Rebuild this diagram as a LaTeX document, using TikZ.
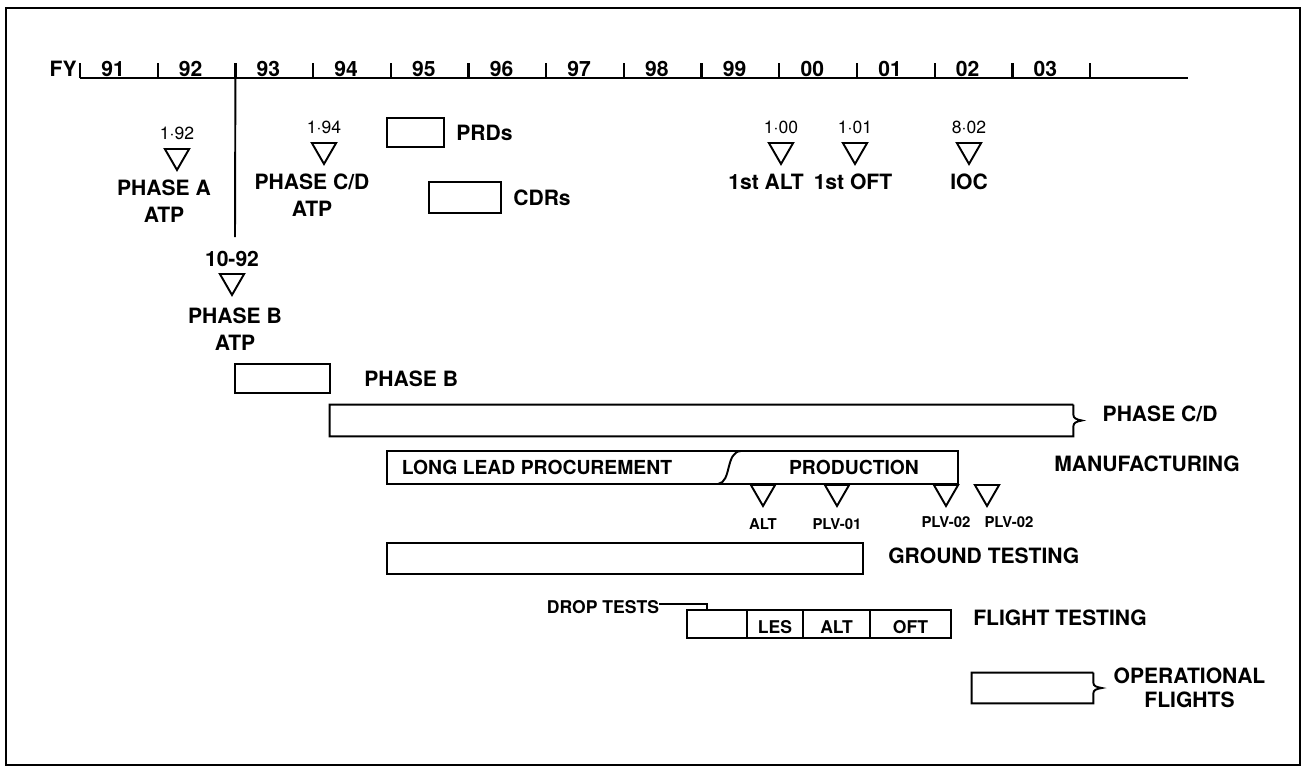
\documentclass[tikz,border=0pt]{standalone}
\usepackage{fontspec}
\setmainfont{TeX Gyre Heros}
\usetikzlibrary{positioning,fit,shapes.geometric}

\tikzset{
  lbl/.style={font=\bfseries\fontsize{12}{15.3}\selectfont,inner sep=0pt,align=center},
  yrlbl/.style={font=\bfseries\fontsize{12}{14}\selectfont,inner sep=0pt},
  dtlbl/.style={font=\fontsize{10}{11}\selectfont,inner sep=0pt},
  seglbl/.style={font=\bfseries\fontsize{10}{12}\selectfont,inner sep=0pt},
  inlbl/.style={font=\bfseries\fontsize{11}{12}\selectfont,inner sep=0pt},
  smlbl/.style={font=\bfseries\fontsize{8.5}{10}\selectfont,inner sep=0pt},
  bar/.style={draw,line width=1.1pt,inner sep=0pt},
  openbar/.style={inner sep=0pt},
  barln/.style={line width=1.1pt},
  mstone/.style={draw,line width=1.1pt,regular polygon,regular polygon sides=3,shape border rotate=180,inner sep=0pt,minimum size=0.56cm,anchor=north},
}

\begin{document}
\begin{tikzpicture}[x=0.02cm,y=-0.02cm]
  \useasboundingbox (0,0) rectangle (1306,772);
  \draw[line width=1.6pt] (6,8) rectangle (1300,765);

  % fiscal year scale
  \node[yrlbl,anchor=base east] (fy) at (77,76) {FY};
  \draw[line width=1.3pt] (80,78) -- (1188,78);
  \foreach \yr [count=\i from 0] in {91,92,93,94,95,96,97,98,99,00,01,02,03} {
    \coordinate (tk\yr) at (80+77.7*\i,78);
    \draw[line width=1.3pt] (tk\yr) -- ++(0,-15);
    \node[yrlbl,anchor=base] (yr\yr) at (113+77.7*\i,76) {\yr};
  }
  \coordinate (tkend) at (1090,78);
  \draw[line width=1.3pt] (tkend) -- ++(0,-15);
  \coordinate (vlend) at (235,237);
  \draw[barln] (tk93) -- (vlend);

  % milestones
  \node[mstone] (ma) at (177,148) {};
  \node[dtlbl,above=0.16cm of ma] (dma) {1·92};
  \node[lbl,below=0.16cm of ma,xshift=-0.26cm] (lma) {PHASE A\\ATP};

  \node[mstone] (mcd) at (324,142) {};
  \node[dtlbl,above=0.16cm of mcd] (dmcd) {1·94};
  \node[lbl,below=0.16cm of mcd,xshift=-0.24cm] (lmcd) {PHASE C/D\\ATP};

  \node[mstone] (mb) at (232,273) {};
  \node[yrlbl,above=0.12cm of mb] (dmb) {10-92};
  \node[lbl,below=0.22cm of mb,xshift=0.06cm] (lmb) {PHASE B\\ATP};

  \node[mstone] (malt1) at (781,142) {};
  \node[dtlbl,above=0.16cm of malt1] (dalt1) {1·00};
  \node[lbl,below=0.16cm of malt1,xshift=-0.3cm] (lalt1) {1st ALT};

  \node[mstone] (moft1) at (855,142) {};
  \node[dtlbl,above=0.16cm of moft1] (doft1) {1·01};
  \node[lbl,below=0.16cm of moft1,xshift=-0.04cm] (loft1) {1st OFT};

  \node[mstone] (mioc) at (969,142) {};
  \node[dtlbl,above=0.16cm of mioc] (dioc) {8·02};
  \node[lbl,below=0.16cm of mioc] (lioc) {IOC};

  % reviews
  \node[bar,fit={(387,118) (444,147)}] (prd) {};
  \node[lbl,right=0.22cm of prd] (lprd) {PRDs};
  \node[bar,fit={(429,182) (501,213)}] (cdr) {};
  \node[lbl,right=0.22cm of cdr] (lcdr) {CDRs};

  % phases
  \node[bar,fit={(235,364) (330,393)}] (phb) {};
  \node[lbl,right=0.66cm of phb] (lphb) {PHASE B};

  \node[openbar,fit={(330,405) (1073,436)}] (pcd) {};
  \draw[barln] (pcd.north east) -- (pcd.north west) -- (pcd.south west) -- (pcd.south east)
    -- ([yshift=0.2cm]pcd.south east) .. controls ([yshift=0.27cm]pcd.south east) and ([xshift=0.06cm,yshift=-0.02cm]pcd.east) .. ([xshift=0.17cm]pcd.east)
    .. controls ([xshift=0.06cm,yshift=0.02cm]pcd.east) and ([yshift=-0.27cm]pcd.north east) .. ([yshift=-0.2cm]pcd.north east) -- (pcd.north east);
  \node[lbl,right=0.58cm of pcd,yshift=0.14cm] (lpcd) {PHASE C/D};

  % manufacturing
  \node[bar,fit={(387,451) (958,484)}] (mfg) {};
  \draw[barln] (718,484) .. controls (732,482) and (725,452) .. (741,451);
  \node[inlbl] (tllp) at (537,467) {LONG LEAD PROCUREMENT};
  \node[inlbl] (tprod) at (854,467) {PRODUCTION};
  \node[lbl,right=1.9cm of mfg,yshift=0.07cm] (lmfg) {MANUFACTURING};

  \node[mstone] (palt) at (763,484) {};
  \node[smlbl,below=0.2cm of palt] (lpalt) {ALT};
  \node[mstone] (p01) at (837,484) {};
  \node[smlbl,below=0.2cm of p01] (lp01) {PLV-01};
  \node[mstone] (p02a) at (946,484) {};
  \node[smlbl,below=0.17cm of p02a] (lp02a) {PLV-02};
  \node[mstone] (p02b) at (987,484) {};
  \node[smlbl,below=0.17cm of p02b,xshift=0.44cm] (lp02b) {PLV-02};

  % testing
  \node[bar,fit={(387,543) (863,574)}] (gnd) {};
  \node[lbl,right=0.48cm of gnd,yshift=0.05cm] (lgnd) {GROUND TESTING};

  \node[bar,fit={(687,610) (747,638)}] (fdrop) {};
  \node[bar,fit={(747,610) (803,638)}] (fles) {};
  \node[bar,fit={(803,610) (870,638)}] (falt) {};
  \node[bar,fit={(870,610) (951,638)}] (foft) {};
  \node[seglbl,yshift=-0.07cm] (tles) at (fles) {LES};
  \node[seglbl,yshift=-0.07cm] (talt) at (falt) {ALT};
  \node[seglbl,yshift=-0.07cm] (toft) at (foft) {OFT};
  \node[lbl,right=0.42cm of foft,yshift=0.12cm] (lflt) {FLIGHT TESTING};

  \node[seglbl] (ldrop) at (603,607) {DROP TESTS};
  \coordinate (dknee) at (707,604);
  \draw[line width=0.9pt] (ldrop.east |- dknee) -- (dknee) -- (dknee |- fdrop.north);

  % operations
  \node[openbar,fit={(972,673) (1093,703)}] (ops) {};
  \draw[barln] (ops.north east) -- (ops.north west) -- (ops.south west) -- (ops.south east)
    -- ([yshift=0.2cm]ops.south east) .. controls ([yshift=0.27cm]ops.south east) and ([xshift=0.06cm,yshift=-0.02cm]ops.east) .. ([xshift=0.17cm]ops.east)
    .. controls ([xshift=0.06cm,yshift=0.02cm]ops.east) and ([yshift=-0.27cm]ops.north east) .. ([yshift=-0.2cm]ops.north east) -- (ops.north east);
  \node[lbl,font=\bfseries\fontsize{12}{13.6}\selectfont,right=0.4cm of ops] (lops) {OPERATIONAL\\FLIGHTS};
\end{tikzpicture}
\end{document}
